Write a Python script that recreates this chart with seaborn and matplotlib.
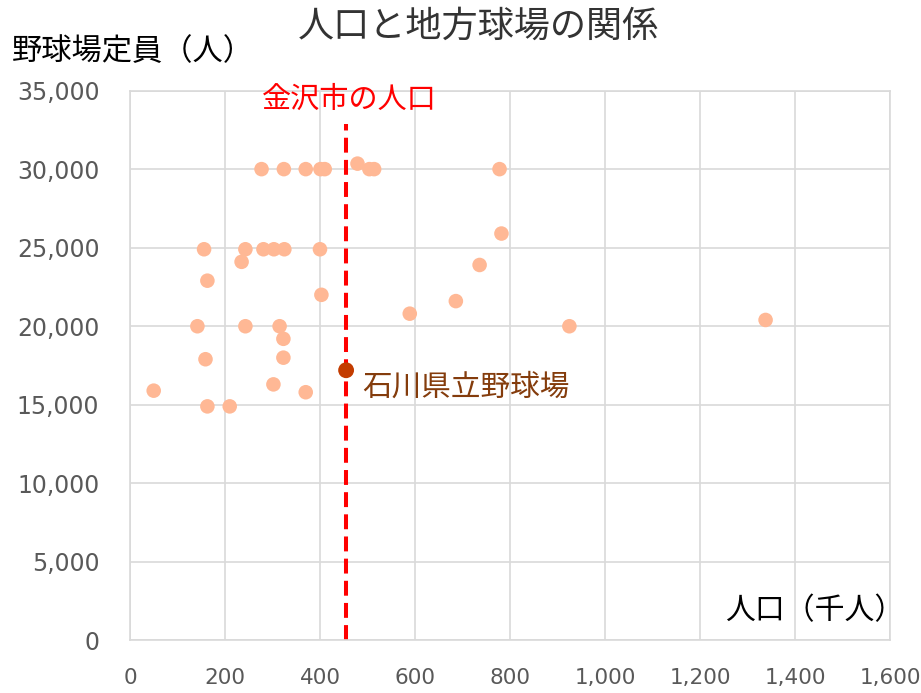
import matplotlib
matplotlib.use('Agg')
import matplotlib.pyplot as plt
import seaborn as sns
import pandas as pd

# 人口（千人）と野球場定員（人）
population = [277, 324, 370, 401, 410, 479, 504, 514, 778, 782, 736,
              156, 243, 281, 303, 325, 400, 235, 163, 403, 589,
              142, 243, 315, 323, 159, 323, 50, 302, 370, 163, 210,
              686, 925, 1338]
capacity = [30000, 30000, 30000, 30000, 30000, 30350, 30000, 30000, 30000, 25900, 23900,
            24900, 24900, 24900, 24900, 24900, 24900, 24100, 22900, 22000, 20800,
            20000, 20000, 20000, 19200, 17900, 18000, 15900, 16300, 15800, 14900, 14900,
            21600, 20000, 20400]

kanazawa_pop = 455
ishikawa_capacity = 17200

x_ticks = [0, 200, 400, 600, 800, 1000, 1200, 1400, 1600]
y_ticks = [0, 5000, 10000, 15000, 20000, 25000, 30000, 35000]

sns.set_theme(style='white')
plt.rcParams['font.family'] = ['DejaVu Sans', 'Noto Sans CJK JP']
jp = ['Noto Sans CJK JP', 'DejaVu Sans']

df = pd.DataFrame({'pop': population, 'cap': capacity})

fig = plt.figure(figsize=(9.21, 6.93), dpi=100)
ax = fig.add_axes([0.1411, 0.0758, 0.8253, 0.7935])

sns.scatterplot(data=df, x='pop', y='cap', ax=ax, color='#FFB895', s=110,
                edgecolor='none', zorder=3)

ax.plot([kanazawa_pop, kanazawa_pop], [0, 32900], color='#FF0000', lw=2.9,
        dashes=(3.7, 1.8), zorder=2)
sns.scatterplot(x=[kanazawa_pop], y=[ishikawa_capacity], ax=ax, color='#C33C00',
                s=130, edgecolor='none', zorder=4)

ax.set_xlim(0, 1600)
ax.set_ylim(0, 35000)
ax.set_xticks(x_ticks)
ax.set_yticks(y_ticks)
ax.set_xticklabels([f'{v:,}' for v in x_ticks])
ax.set_yticklabels([f'{v:,}' for v in y_ticks])
ax.tick_params(axis='x', length=0, pad=20, labelsize=15.5, labelcolor='#595959')
ax.tick_params(axis='y', length=0, pad=22, labelsize=17, labelcolor='#595959')
ax.grid(True, color='#D9D9D9', lw=1.2)
for s in ax.spines.values():
    s.set_color('#D9D9D9')
    s.set_linewidth(1.2)
ax.set_xlabel('')
ax.set_ylabel('')

ax.text(277, 34400, '金沢市の人口', color='#FF0000', fontsize=21, va='center',
        family=jp)
ax.text(488, 16100, '石川県立野球場', color='#843C0C', fontsize=21.3, va='center',
        family=jp)
ax.text(1630, 1880, '人口（千人）', color='#000000', fontsize=21.5, va='center',
        ha='right', family=jp)

fig.text(0.519, 0.961, '人口と地方球場の関係', ha='center', va='center',
         fontsize=26, color='#333333', family=jp)
fig.text(0.013, 0.925, '野球場定員（人）', ha='left', va='center',
         fontsize=21.8, color='#000000', family=jp)

fig.savefig('out.png', dpi=100)
